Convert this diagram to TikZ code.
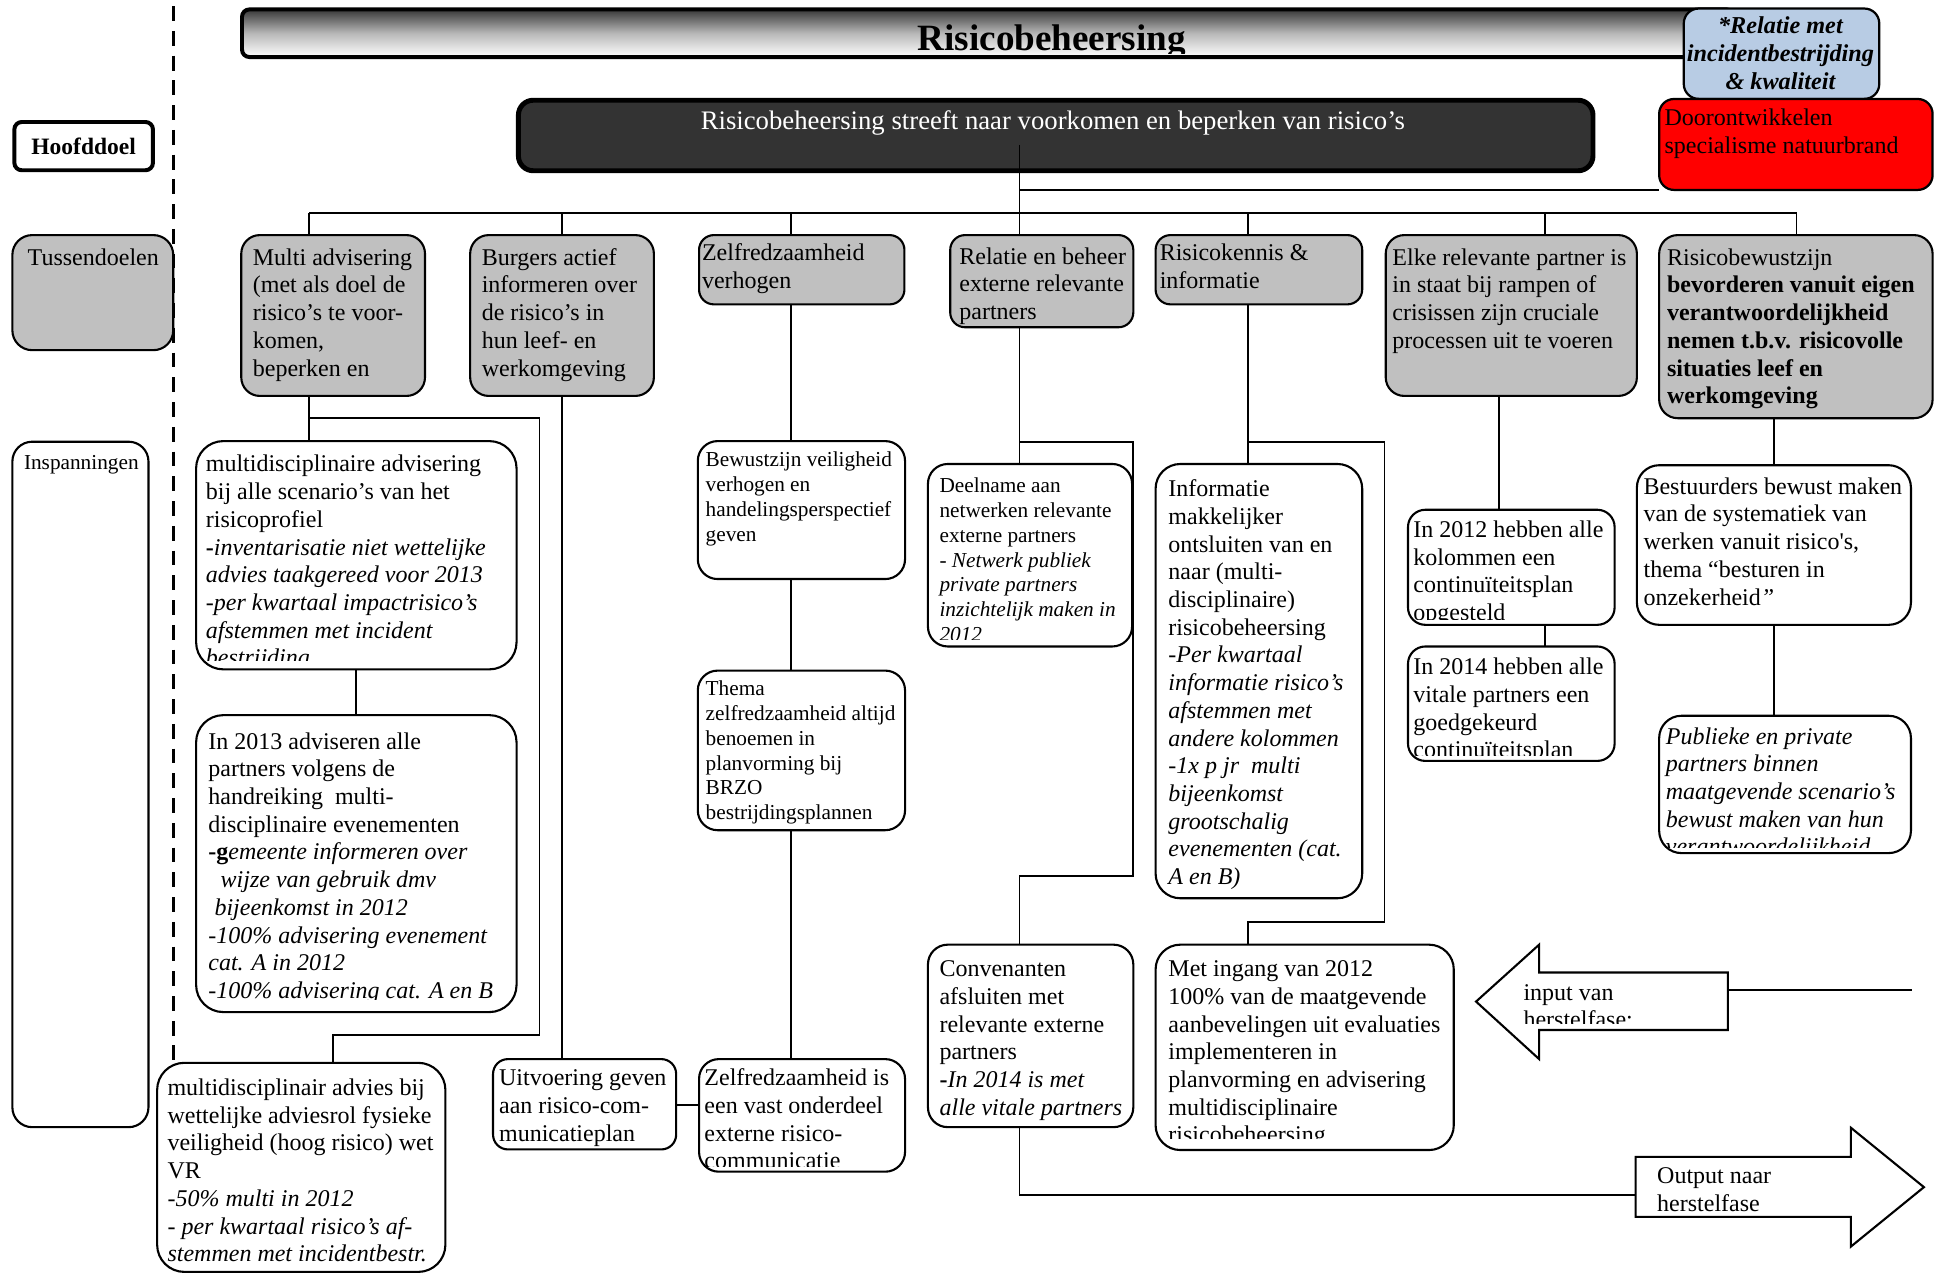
\documentclass[tikz,border=0pt]{standalone}
\usepackage{fontspec}
\setmainfont{Liberation Serif}
\definecolor{bluebox}{HTML}{B8CCE4}
\definecolor{redbox}{HTML}{FF0000}
\definecolor{graybox}{HTML}{C0C0C0}
\definecolor{darkbox}{HTML}{333333}
% #1 box style, #2 name, #3 x1, #4 y1, #5 x2, #6 y2, #7 clip bottom, #8 text style, #9 text
\newcommand\tbx[9]{%
  \node[#1, minimum width={(#5-#3)*0.5pt}, minimum height={(#6-#4)*0.5pt}, anchor=north west, inner sep=0pt, outer sep=0pt] (#2) at (#3,#4) {};
  \begin{scope}
    \clip (#3+1.5,#4+1.5) rectangle (#5-1.5,#7);
    \node[#8] (#2t) {\strut #9};
  \end{scope}%
}
\tikzset{
  conn/.style={line width=0.75pt},
  gbox/.style={draw, line width=0.85pt, fill=graybox, rounded corners=6pt},
  wbox/.style={draw, line width=0.85pt, fill=white, rounded corners=8pt},
  wbig/.style={draw, line width=0.85pt, fill=white, rounded corners=11pt},
  tx/.style={anchor=north west, inner sep=0pt, align=left, font=\fontsize{9.7}{11.2}\selectfont, yshift=7.84pt},
  txs/.style={anchor=north west, inner sep=0pt, align=left, font=\fontsize{8.6}{10}\selectfont, yshift=7pt},
}
\begin{document}
\begin{tikzpicture}[x=0.5pt, y=-0.5pt]
\useasboundingbox (0,0) rectangle (1568,1030);

% dashed separator
\coordinate (dtop) at (140,5);
\coordinate (dbot) at (140,857);
\draw[line width=1.3pt, dash pattern=on 6pt off 4pt] (dtop) -- (dbot);

% left labels
\node[draw, line width=1.6pt, fill=white, rounded corners=3pt, minimum width=56pt, minimum height=19.5pt, anchor=north west, inner sep=0pt, font=\bfseries\fontsize{9.5}{11}\selectfont] (hoofd) at (10,97) {Hoofddoel};
\tbx{gbox, rounded corners=8pt}{tuss}{10}{190}{140}{283}{281}{tx, at={(22,214)}}{Tussendoelen}
\tbx{wbox}{insp}{10}{357}{120}{911}{909}{txs, at={(19,379)}}{Inspanningen}

% title bar
\node[draw, line width=1.6pt, rounded corners=3pt, top color=black!78, bottom color=white, middle color=black!28, minimum width={(1400-194)*0.5pt}, minimum height={(44.5-6)*0.5pt}, anchor=north west, inner sep=0pt] (title) at (194,6) {};
\begin{scope}
  \clip (194,6) rectangle (1400,43);
  \node[anchor=base, inner sep=0pt, font=\bfseries\fontsize{15}{18}\selectfont] (titlet) at (850,41) {Risicobeheersing};
\end{scope}

% blue box
\node[draw, line width=0.9pt, fill=bluebox, rounded corners=6pt, minimum width={(1518-1360)*0.5pt}, minimum height={(79-6)*0.5pt}, anchor=north west, inner sep=0pt] (blue) at (1360,6) {};
\node[anchor=north, inner sep=0pt, align=center, font=\bfseries\itshape\fontsize{9.8}{11.2}\selectfont, yshift=7.84pt] (bluet) at (1439,27) {\strut *Relatie met\\incidentbestrijding\\\& kwaliteit};

% red box
\tbx{draw, line width=0.9pt, fill=redbox, rounded corners=6pt}{red}{1341}{80}{1562}{153.5}{151}{tx, at={(1345,101)}}{Doorontwikkelen\\specialisme natuurbrand}

% dark main goal box
\node[draw, line width=2pt, fill=darkbox, rounded corners=6pt, minimum width={(1285.5-417)*0.5pt}, minimum height={(136-79)*0.5pt}, anchor=north west, inner sep=0pt] (dark) at (417,79) {};
\node[anchor=base, inner sep=0pt, text=white, font=\fontsize{10.8}{12.4}\selectfont] (darkt) at (851,105) {Risicobeheersing streeft naar voorkomen en beperken van risico’s};

% tussendoelen
\tbx{gbox, rounded corners=7.5pt}{multi}{195}{190}{343.5}{320}{318}{tx, at={(204,214)}}{Multi advisering\\(met als doel de\\risico’s te voor-\\komen,\\beperken en}
\tbx{gbox, rounded corners=7.5pt}{burg}{380}{190}{528.5}{320}{318}{tx, at={(389,214)}}{Burgers actief\\informeren over\\de risico’s in\\hun leef- en\\werkomgeving}
\tbx{gbox}{zelf}{565}{190}{731}{246}{244}{tx, at={(567,210)}}{Zelfredzaamheid\\verhogen}
\tbx{gbox}{rel}{768}{190}{916}{264.5}{262}{tx, at={(775,213)}}{Relatie en beheer\\externe relevante\\partners}
\tbx{gbox}{rk}{934}{190}{1101}{246}{244}{tx, at={(937,210)}}{Risicokennis \&\\informatie}
\tbx{gbox, rounded corners=7.5pt}{elke}{1120}{190}{1323}{320}{318}{tx, at={(1125,214)}}{Elke relevante partner is\\in staat bij rampen of\\crisissen zijn cruciale\\processen uit te voeren}
\tbx{gbox, rounded corners=7.5pt}{rb}{1341}{190}{1562}{338}{336}{tx, at={(1347,214)}}{Risicobewustzijn\\\textbf{bevorderen vanuit eigen}\\\textbf{verantwoordelijkheid}\\\textbf{nemen t.b.v. risicovolle}\\\textbf{situaties leef en}\\\textbf{werkomgeving}}

% inspanningen column 1
\tbx{wbig}{a1}{158.5}{356.5}{417.5}{541}{534}{tx, at={(166,381)}}{multidisciplinaire advisering\\bij alle scenario’s van het\\risicoprofiel\\\textbf{-}\textit{inventarisatie niet wettelijke}\\\textit{advies taakgereed voor 2013}\\\textit{-per kwartaal impactrisico’s}\\\textit{afstemmen met incident}\\\textit{bestrijding}}
\tbx{wbig}{a2}{158.5}{578}{417.5}{818}{808}{tx, at={(168,605)}}{In 2013 adviseren alle\\partners volgens de\\handreiking\ \ multi-\\disciplinaire evenementen\\\textbf{-g}\textit{emeente informeren over}\\\hspace*{5pt}\textit{wijze van gebruik dmv}\\\hspace*{2.5pt}\textit{bijeenkomst in 2012}\\\textit{-100\% advisering evenement}\\\textit{cat. A in 2012}\\\textit{-100\% advisering cat. A en B}}
\tbx{wbig}{a3}{127}{859}{360}{1028}{1026}{tx, at={(135,885)}}{multidisciplinair advies bij\\wettelijke adviesrol fysieke\\veiligheid (hoog risico) wet\\VR\\\textit{-50\% multi in 2012}\\\textit{- per kwartaal risico’s af-}\\\textit{stemmen met incidentbestr.}}

% column 2 and 3
\tbx{wbox, rounded corners=6pt}{b1}{398.5}{856}{546.5}{929}{927}{tx, at={(403,877)}}{Uitvoering geven\\aan risico-com-\\municatieplan}
\tbx{wbox}{c1}{564}{356.5}{731.5}{468}{466}{txs, at={(570,377)}}{Bewustzijn veiligheid\\verhogen en\\handelingsperspectief\\geven}
\tbx{wbox}{c2}{564}{542}{731.5}{671}{669}{txs, at={(570,562)}}{Thema\\zelfredzaamheid altijd\\benoemen in\\planvorming bij\\BRZO\\bestrijdingsplannen}
\tbx{wbox}{c3}{565}{856}{731.5}{947}{943}{tx, at={(569,877)}}{Zelfredzaamheid is\\een vast onderdeel\\externe risico-\\communicatie}

% column 4
\tbx{wbox}{d1}{750}{375}{915}{522.5}{517}{txs, at={(759,398)}}{Deelname aan\\netwerken relevante\\externe partners\\\textit{- Netwerk publiek}\\\textit{private partners}\\\textit{inzichtelijk maken in}\\\textit{2012}}
\tbx{wbox}{d2}{750}{763.5}{916}{911}{909}{tx, at={(759,789)}}{Convenanten\\afsluiten met\\relevante externe\\partners\\\textbf{-}\textit{In 2014 is met}\\\textit{alle vitale partners}}

% column 5
\tbx{wbox, rounded corners=10pt}{e1}{934}{375}{1101}{726}{722}{tx, at={(944,401)}}{Informatie\\makkelijker\\ontsluiten van en\\naar (multi-\\disciplinaire)\\risicobeheersing\\\textit{-Per kwartaal}\\\textit{informatie risico’s}\\\textit{afstemmen met}\\\textit{andere kolommen}\\\textit{-1x p jr\ \ multi}\\\textit{bijeenkomst}\\\textit{grootschalig}\\\textit{evenementen (cat.}\\\textit{A en B)}}
\tbx{wbox, rounded corners=10pt}{e2}{934}{763.5}{1175}{929.5}{920}{tx, at={(944,789)}}{Met ingang van 2012\\100\% van de maatgevende\\aanbevelingen uit evaluaties\\implementeren in\\planvorming en advisering\\multidisciplinaire\\risicobeheersing}

% column 6
\tbx{wbox, rounded corners=7pt}{f1}{1138}{412}{1305}{505}{501}{tx, at={(1142,434)}}{In 2012 hebben alle\\kolommen een\\continuïteitsplan\\opgesteld}
\tbx{wbox, rounded corners=7pt}{f2}{1138}{522.5}{1305}{615}{611}{tx, at={(1142,545)}}{In 2014 hebben alle\\vitale partners een\\goedgekeurd\\continuïteitsplan}

% column 7
\tbx{wbox, rounded corners=9pt}{g1}{1323}{376}{1544.5}{505}{503}{tx, at={(1328,399)}}{Bestuurders bewust maken\\van de systematiek van\\werken vanuit risico\textquotesingle s,\\thema “besturen in\\onzekerheid\textit{”}}
\tbx{wbox, rounded corners=9pt}{g2}{1341}{578.5}{1544.5}{689.5}{685}{tx, at={(1346,601)}}{\textit{Publieke en private}\\\textit{partners binnen}\\\textit{maatgevende scenario’s}\\\textit{bewust maken van hun}\\\textit{verantwoordelijkheid}}

% arrows
\draw[line width=0.85pt, fill=white] (1193,809.5) -- (1244,763.5) -- (1244,786) -- (1396.5,786) -- (1396.5,832.5) -- (1244,832.5) -- (1244,856) -- cycle;
\begin{scope}
  \clip (1225,787) rectangle (1395,827);
  \node[tx, at={(1231,808)}] (int) {\strut input van\\herstelfase:};
\end{scope}
\draw[line width=0.85pt, fill=white] (1322,935) -- (1496,935) -- (1496,911.5) -- (1555,959.5) -- (1496,1007.5) -- (1496,983.5) -- (1322,983.5) -- cycle;
\node[tx, at={(1339,956)}] (outt) {\strut Output naar\\herstelfase};

% ---------- connectors ----------
\coordinate (m0) at (824,117);
\coordinate (j0) at (824,153.5);
\draw[conn] (m0) -- (m0 |- rel.north);
\draw[conn] (j0) -- (red.south west);
\coordinate (bl) at (250,172);
\coordinate (br) at (1452,172);
\draw[conn] (bl) -- (br);
\coordinate (v2) at (454.5,172);
\coordinate (v3) at (639,172);
\coordinate (v5) at (1009,172);
\coordinate (v6) at (1249,172);
\draw[conn] (bl) -- (bl |- multi.north);
\draw[conn] (v2) -- (v2 |- burg.north);
\draw[conn] (v3) -- (v3 |- zelf.north);
\draw[conn] (v5) -- (v5 |- rk.north);
\draw[conn] (v6) -- (v6 |- elke.north);
\draw[conn] (br) -- (br |- rb.north);

% column 1
\coordinate (p1) at (250,338);
\coordinate (q1) at (436,338);
\coordinate (q2) at (436,836.5);
\coordinate (q3) at (269,836.5);
\draw[conn] (p1 |- multi.south) -- (p1 |- a1.north);
\draw[conn] (p1) -- (q1) -- (q2) -- (q3) -- (q3 |- a3.north);
\coordinate (p2) at (288,560);
\draw[conn] (p2 |- a1.south) -- (p2 |- a2.north);

% column 2 / 3
\coordinate (p3) at (454.5,600);
\draw[conn] (p3 |- burg.south) -- (p3 |- b1.north);
\coordinate (p4) at (500,893);
\draw[conn] (p4 -| b1.east) -- (p4 -| c3.west);
\coordinate (p5) at (639,300);
\draw[conn] (p5 |- zelf.south) -- (p5 |- c1.north);
\draw[conn] (p5 |- c1.south) -- (p5 |- c2.north);
\draw[conn] (p5 |- c2.south) -- (p5 |- c3.north);

% column 4
\coordinate (r1) at (824,357);
\coordinate (r2) at (916,357);
\coordinate (r3) at (916,708);
\coordinate (r4) at (824,708);
\draw[conn] (r1 |- rel.south) -- (r1) -- (r2) -- (r3) -- (r4) -- (r4 |- d2.north);
\draw[conn] (r1) -- (r1 |- d1.north);
\coordinate (o1) at (824,966);
\coordinate (outL) at (1322,966);
\draw[conn] (o1 |- d2.south) -- (o1) -- (outL);

% column 5
\coordinate (s1) at (1009,357);
\coordinate (s2) at (1119,357);
\coordinate (s3) at (1119,745);
\coordinate (s4) at (1009,745);
\draw[conn] (s1 |- rk.south) -- (s1) -- (s2) -- (s3) -- (s4) -- (s4 |- e2.north);
\draw[conn] (s1) -- (s1 |- e1.north);

% column 6
\coordinate (u1) at (1211.5,400);
\draw[conn] (u1 |- elke.south) -- (u1 |- f1.north);
\coordinate (u2) at (1249,510);
\draw[conn] (u2 |- f1.south) -- (u2 |- f2.north);

% column 7
\coordinate (w1) at (1434,400);
\draw[conn] (w1 |- rb.south) -- (w1 |- g1.north);
\draw[conn] (w1 |- g1.south) -- (w1 |- g2.north);

% input line
\coordinate (inR) at (1396.5,800);
\coordinate (inEnd) at (1545,800);
\draw[conn] (inR) -- (inEnd);
\end{tikzpicture}
\end{document}
